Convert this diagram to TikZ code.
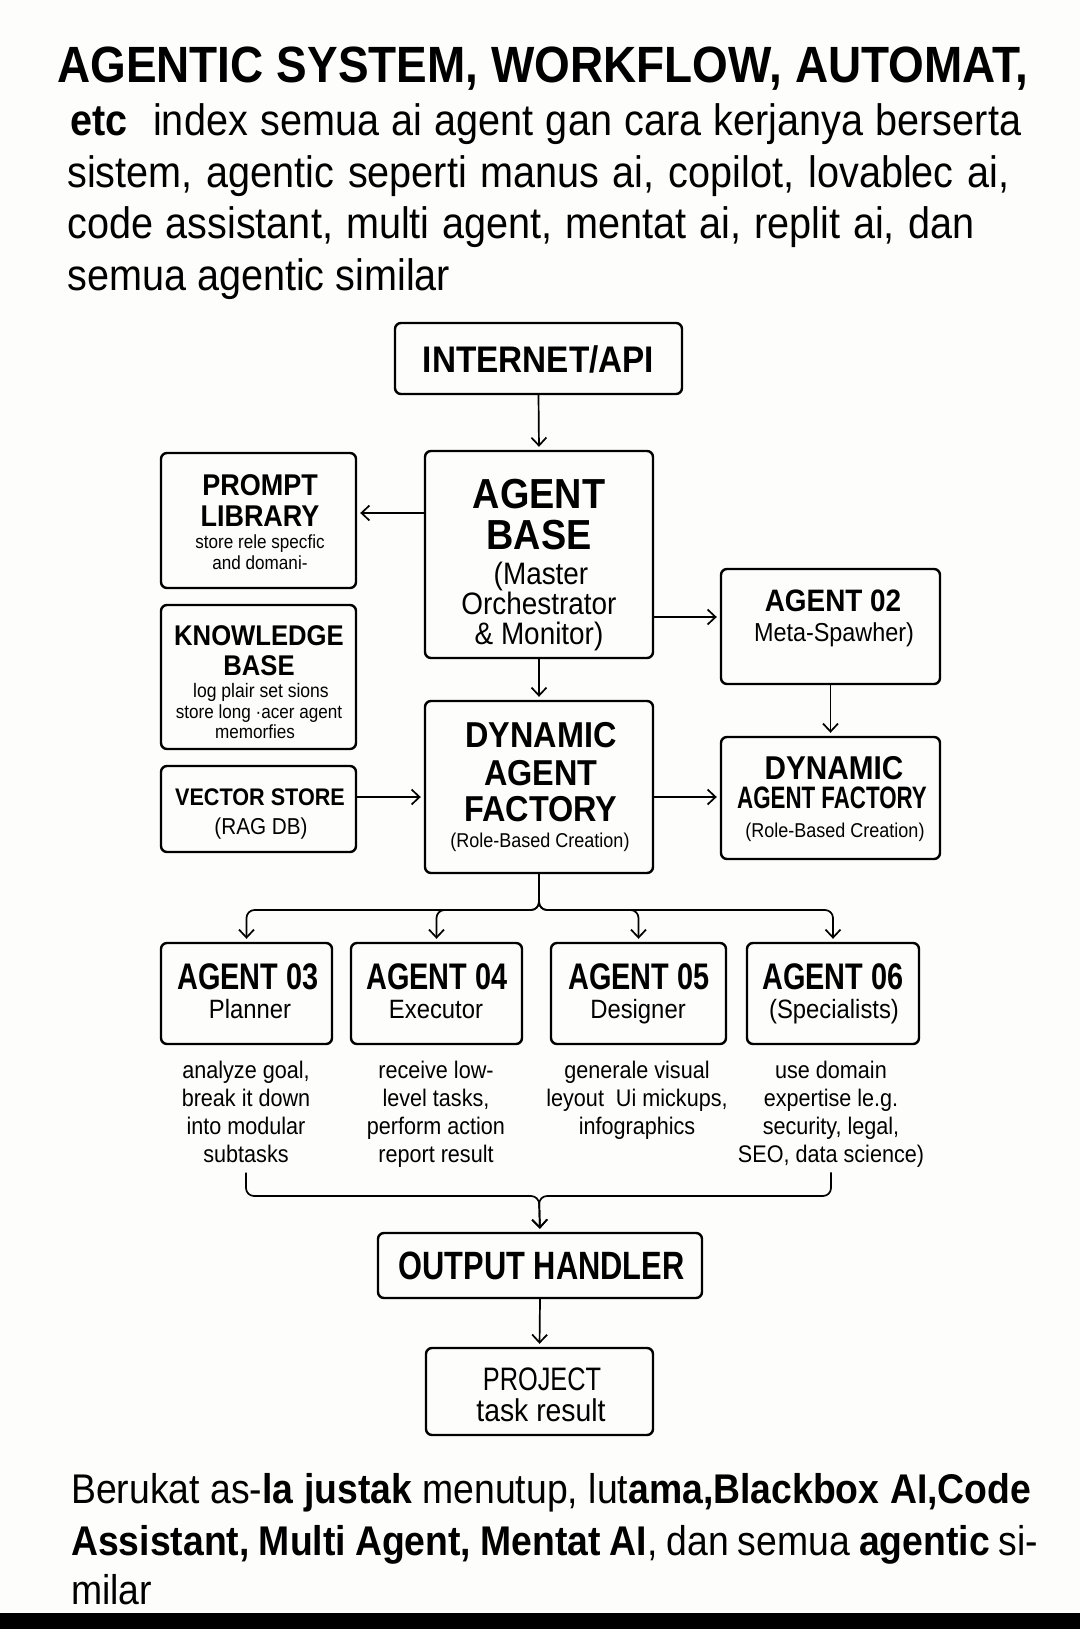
\documentclass[tikz,border=0pt]{standalone}
\usepackage{fontspec}
\setmainfont{Liberation Sans}[FakeStretch=0.9]
\newfontfamily\narfont{Liberation Sans}[FakeStretch=0.78]
\usetikzlibrary{arrows.meta}
\definecolor{bgc}{RGB}{253,253,251}
\newcommand\fsz[1]{\fontsize{#1}{#1}\selectfont}
\newcommand\Tline[5]{\node[tx,#2] (#1) at (#3,#4) {#5};}
\newcommand\Lline[5]{\node[txl,#2] (#1) at (#3,#4) {#5};}
\begin{document}
\begin{tikzpicture}[x=1pt,y=-1pt,
  bx/.style={draw=black, line width=2.4pt, rounded corners=6pt, inner sep=0pt},
  con/.style={draw=black, line width=1.7pt},
  arr/.style={con, -{Straight Barb[length=8pt,width=15pt]}, shorten >=3pt},
  tx/.style={anchor=base, inner sep=0pt, text=black},
  txl/.style={anchor=base west, inner sep=0pt, text=black},
  desc/.style={anchor=north, align=center, inner sep=0pt, text=black, font=\fontsize{24}{28}\selectfont},
]
\fill[bgc] (0,0) rectangle (1080,1629);
\useasboundingbox (0,0) rectangle (1080,1629);
\fill[black] (0,1613) rectangle (1080,1629);

% ---- heading text ----
\Lline{title}{font=\bfseries\fsz{51}}{57}{83}{\makebox[971pt][s]{AGENTIC SYSTEM, WORKFLOW, AUTOMAT,}}
\Lline{p1a}{font=\bfseries\fsz{44}}{70}{136}{etc}
\Lline{p1b}{font=\fsz{44}}{153}{136}{\makebox[868pt][s]{index semua ai agent gan cara kerjanya berserta}}
\Lline{p2}{font=\fsz{44}}{67}{188}{\makebox[942pt][s]{sistem, agentic seperti manus ai, copilot, lovablec ai,}}
\Lline{p3}{font=\fsz{44}}{67}{239}{\makebox[907pt][s]{code assistant, multi agent, mentat ai, replit ai, dan}}
\Lline{p4}{font=\fsz{44}}{67}{290}{semua agentic similar}

% ---- boxes ----
\node[bx, minimum width=287pt, minimum height=71pt] (inet) at (538.5,358.5) {};
\node[bx, minimum width=228pt, minimum height=207pt] (abase) at (539,554.5) {};
\node[bx, minimum width=195pt, minimum height=135pt] (prompt) at (258.5,520.5) {};
\node[bx, minimum width=195pt, minimum height=144pt] (know) at (258.5,677) {};
\node[bx, minimum width=195pt, minimum height=86pt] (vec) at (258.5,809) {};
\node[bx, minimum width=228pt, minimum height=172pt] (daf) at (539,787) {};
\node[bx, minimum width=219pt, minimum height=115pt] (a02) at (830.5,626.5) {};
\node[bx, minimum width=219pt, minimum height=122pt] (daf2) at (830.5,798) {};
\node[bx, minimum width=171pt, minimum height=101pt] (a03) at (246.5,993.5) {};
\node[bx, minimum width=171pt, minimum height=101pt] (a04) at (436.5,993.5) {};
\node[bx, minimum width=175pt, minimum height=101pt] (a05) at (638.5,993.5) {};
\node[bx, minimum width=172pt, minimum height=101pt] (a06) at (833,993.5) {};
\node[bx, minimum width=324pt, minimum height=65pt] (out) at (540,1265.5) {};
\node[bx, minimum width=227pt, minimum height=87pt] (proj) at (539.5,1391.5) {};

% ---- box texts ----
\Tline{inetT}{font=\bfseries\fsz{37}}{538.5}{372}{INTERNET/API}

\Tline{abT1}{font=\bfseries\fsz{42}}{539}{508}{AGENT}
\Tline{abT2}{font=\bfseries\fsz{42}}{539}{549}{BASE}
\Tline{abT3}{font=\fsz{31}}{541}{584}{(Master}
\Tline{abT4}{font=\fsz{31}}{539}{614}{Orchestrator}
\Tline{abT5}{font=\fsz{31}}{539}{644}{\& Monitor)}

\Tline{prT1}{font=\bfseries\fsz{30}}{260}{495}{PROMPT}
\Tline{prT2}{font=\bfseries\fsz{30}}{260}{526}{LIBRARY}
\Tline{prT3}{font=\fsz{19}}{260}{548}{store rele specfic}
\Tline{prT4}{font=\fsz{19}}{260}{569}{and domani-}

\Tline{kbT1}{font=\bfseries\fsz{28.5}}{259}{645}{KNOWLEDGE}
\Tline{kbT2}{font=\bfseries\fsz{28.5}}{259}{675}{BASE}
\Tline{kbT3}{font=\fsz{19.5}}{261}{697}{log plair set sions}
\Tline{kbT4}{font=\fsz{19}}{259}{718}{store long ·acer agent}
\Tline{kbT5}{font=\fsz{19}}{255}{738}{memorfies}

\Tline{vsT1}{font=\bfseries\fsz{24}}{260}{805}{VECTOR STORE}
\Tline{vsT2}{font=\fsz{23}}{261}{834}{(RAG DB)}

\Tline{dfT1}{font=\bfseries\fsz{36}}{541}{747}{DYNAMIC}
\Tline{dfT2}{font=\bfseries\fsz{36}}{541}{785}{AGENT}
\Tline{dfT3}{font=\bfseries\fsz{36}}{541}{821}{FACTORY}
\Tline{dfT4}{font=\fsz{20}}{540}{847}{(Role-Based Creation)}

\Tline{a2T1}{font=\bfseries\fsz{31}}{833}{611}{AGENT 02}
\Tline{a2T2}{font=\fsz{26}}{834}{641}{Meta-Spawher)}

\Tline{d2T1}{font=\bfseries\fsz{33}}{834}{779}{DYNAMIC}
\Tline{d2T2}{font=\bfseries\fsz{31}}{832}{808}{\scalebox{0.8}[1]{AGENT FACTORY}}
\Tline{d2T3}{font=\fsz{20}}{835}{837}{(Role-Based Creation)}

\Tline{a3T1}{font=\narfont\bfseries\fsz{37}}{248}{989}{AGENT 03}
\Tline{a3T2}{font=\fsz{26.5}}{250}{1018}{Planner}
\Tline{a4T1}{font=\narfont\bfseries\fsz{37}}{437}{989}{AGENT 04}
\Tline{a4T2}{font=\fsz{26.5}}{436}{1018}{Executor}
\Tline{a5T1}{font=\narfont\bfseries\fsz{37}}{639}{989}{AGENT 05}
\Tline{a5T2}{font=\fsz{26.5}}{638}{1018}{Designer}
\Tline{a6T1}{font=\narfont\bfseries\fsz{37}}{833}{989}{AGENT 06}
\Tline{a6T2}{font=\fsz{26.5}}{834}{1018}{(Specialists)}

\Tline{outT}{font=\narfont\bfseries\fsz{39.5}}{541.5}{1279}{OUTPUT HANDLER}
\Tline{pjT1}{font=\narfont\fsz{32.5}}{542}{1390}{PROJECT}
\Tline{pjT2}{font=\fsz{31.5}}{541}{1421}{task result}

% ---- descriptions ----
\node[desc] (d03) at (246,1060.5) {analyze goal,\\break it down\\into modular\\subtasks};
\node[desc] (d04) at (436,1060.5) {receive low-\\level tasks,\\perform action\\report result};
\node[desc] (d05) at (637,1060.5) {generale visual\\leyout\enspace Ui mickups,\\infographics};
\node[desc] (d06) at (831,1060.5) {use domain\\expertise le.g.\\security, legal,\\SEO, data science)};

% ---- connectors ----
\draw[arr] (inet.south) -- (abase.north);
\draw[arr] ([yshift=41.5pt]abase.west) -- ([yshift=7.5pt]prompt.east);
\draw[arr] ([yshift=-62.5pt]abase.east) -- ([yshift=9.5pt]a02.west);
\draw[arr] (abase.south) -- (daf.north);
\draw[arr] (a02.south) -- (daf2.north);
\draw[arr] ([yshift=12pt]vec.east) -- ([yshift=-10pt]daf.west);
\draw[arr] ([yshift=-10pt]daf.east) -- ([yshift=1pt]daf2.west);

\coordinate (fan) at (539,910);
\foreach \a in {a03,a04,a05,a06}
  \draw[arr, rounded corners=8pt] (daf.south) -- (fan) -| (\a.north);

\coordinate (merge) at (539,1196);
\draw[arr, rounded corners=8pt] ([yshift=-10pt]d03.south) |- (merge) -- (out.north);
\draw[arr, rounded corners=8pt] ([yshift=-5pt]d06.south) |- (merge) -- (out.north);

\draw[arr] (out.south) -- (proj.north);

% ---- closing text ----
\Lline{b1}{font=\fsz{41.5}}{71}{1503}{\makebox[960pt][s]{Berukat as-\textbf{la justak} menutup, lut\textbf{ama,Blackbox AI,Code}}}
\Lline{b2}{font=\fsz{41.5}}{71}{1555}{\makebox[967pt][s]{\textbf{Assistant, Multi Agent, Mentat AI}, dan semua \textbf{agentic} si-}}
\Lline{b3}{font=\fsz{41.5}}{71}{1604}{milar}
\end{tikzpicture}
\end{document}
